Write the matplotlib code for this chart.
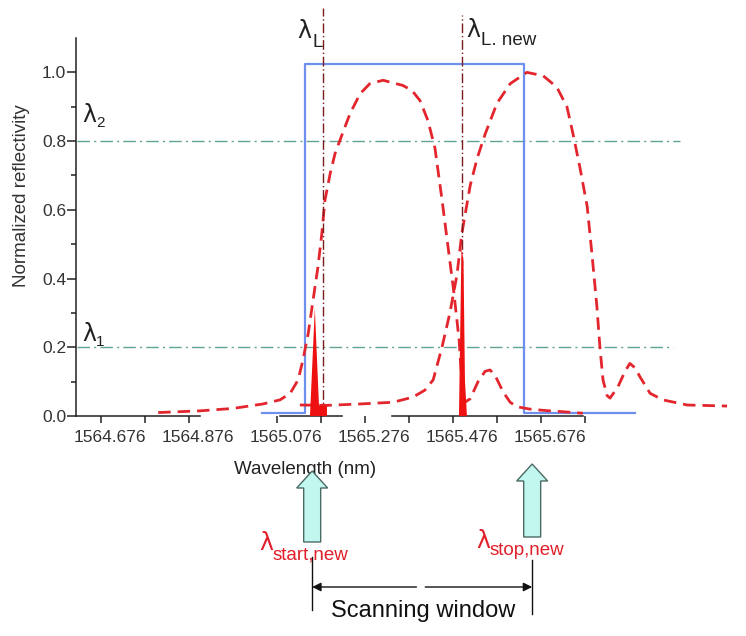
import matplotlib
matplotlib.use("Agg")
import matplotlib.pyplot as plt
import matplotlib.transforms as mtransforms
from matplotlib.patches import Polygon
from matplotlib.lines import Line2D

plt.rcParams['font.family'] = ['Liberation Sans', 'DejaVu Sans']

# --- data (wavelength in nm, normalized reflectivity) ---
fbg1_wl = [1564.806, 1564.901, 1564.976, 1565.044, 1565.083, 1565.106, 1565.124, 1565.135,
           1565.147, 1565.158, 1565.169, 1565.178, 1565.185, 1565.197, 1565.208, 1565.219,
           1565.242, 1565.265, 1565.287, 1565.317, 1565.362, 1565.383, 1565.401, 1565.419,
           1565.435, 1565.451, 1565.465, 1565.478, 1565.490, 1565.496, 1565.503, 1565.515,
           1565.533, 1565.549, 1565.560, 1565.571, 1565.590, 1565.606, 1565.621, 1565.651,
           1565.685, 1565.731, 1565.771]
fbg1_r = [0.010, 0.015, 0.022, 0.035, 0.047, 0.066, 0.105, 0.163, 0.24, 0.337, 0.433, 0.532,
          0.628, 0.706, 0.764, 0.802, 0.88, 0.938, 0.967, 0.977, 0.962, 0.947, 0.918, 0.86,
          0.78, 0.63, 0.49, 0.36, 0.22, 0.10, 0.04, 0.05, 0.10, 0.13, 0.134, 0.12, 0.07, 0.04,
          0.027, 0.02, 0.016, 0.012, 0.008]

fbg2_wl = [1565.128, 1565.190, 1565.265, 1565.340, 1565.385, 1565.412, 1565.431, 1565.451,
           1565.469, 1565.485, 1565.496, 1565.515, 1565.531, 1565.549, 1565.576, 1565.606,
           1565.644, 1565.681, 1565.712, 1565.735, 1565.749, 1565.765, 1565.781, 1565.792,
           1565.803, 1565.810, 1565.817, 1565.826, 1565.833, 1565.851, 1565.867, 1565.878,
           1565.890, 1565.901, 1565.924, 1565.953, 1566.008, 1566.099]
fbg2_r = [0.032, 0.031, 0.035, 0.04, 0.055, 0.075, 0.105, 0.2, 0.30, 0.41, 0.53, 0.67, 0.75,
          0.82, 0.91, 0.967, 1.0, 0.99, 0.957, 0.90, 0.82, 0.72, 0.61, 0.47, 0.32, 0.2, 0.105,
          0.06, 0.052, 0.085, 0.13, 0.153, 0.14, 0.114, 0.066, 0.047, 0.032, 0.029]

# scanning window (rectangle)
window_wl = [1565.042, 1565.140, 1565.140, 1565.637, 1565.637, 1565.890]
window_r = [0.01, 0.01, 1.023, 1.023, 0.01, 0.01]

# laser lines (filled)
laser1_wl = [1565.151, 1565.162, 1565.1715, 1565.1715, 1565.1896, 1565.1896]
laser1_r = [0.0, 0.314, 0.03, 0.03, 0.03, 0.0]
laser2_wl = [1565.4896, 1565.4953, 1565.4999, 1565.5033, 1565.5078]
laser2_r = [0.0, 0.49, 0.45, 0.10, 0.0]

lambda_L = 1565.1805
lambda_L_new = 1565.4965
lambda_1 = 0.2
lambda_2 = 0.8
scan_start = 1565.156
scan_stop = 1565.656

xticks = [1564.676, 1564.776, 1564.876, 1565.076, 1565.176, 1565.276, 1565.376,
          1565.476, 1565.576, 1565.676, 1565.776]
xticklabels = ['1564.676', '', '1564.876', '1565.076', '', '1565.276', '',
               '1565.476', '', '1565.676', '']
axis_pieces = [(1564.619, 1564.901), (1565.083, 1565.224), (1565.337, 1565.771)]

W, H = 746, 636
fig = plt.figure(figsize=(W / 100, H / 100), dpi=100)
ax = fig.add_axes([76 / W, (H - 416) / H, 659 / W, 378 / H])
ax.set_xlim(1564.6192, 1566.117)
ax.set_ylim(0, 1.1)

red = '#e3262e'
ax.plot(fbg1_wl, fbg1_r, color=red, lw=2, linestyle=(0, (4.5, 2.5)), zorder=3)
ax.plot(fbg2_wl, fbg2_r, color=red, lw=2, linestyle=(0, (4.5, 2.5)), zorder=3)
ax.plot(window_wl, window_r, color='#6e90ec', lw=1.6, zorder=2)
ax.fill(laser1_wl, laser1_r, color='#ee1111', lw=0, zorder=4)
ax.fill(laser2_wl, laser2_r, color='#ee1111', lw=0, zorder=4)

green = '#5fa394'
ax.plot([1564.6215, 1565.992], [lambda_2, lambda_2], color=green, lw=1,
        linestyle=(0, (9, 3, 1.5, 3)), zorder=1)
ax.plot([1564.6215, 1565.976], [lambda_1, lambda_1], color=green, lw=1,
        linestyle=(0, (9, 3, 1.5, 3)), zorder=1)

vcol = '#7a1c1c'
ax.plot([lambda_L, lambda_L], [0, 1.186], color=vcol, lw=1,
        linestyle=(0, (7, 2, 1, 2)), clip_on=False, zorder=3)
ax.plot([lambda_L_new, lambda_L_new], [0, 1.166], color=vcol, lw=1,
        linestyle=(0, (7, 2, 1, 2)), clip_on=False, zorder=3)


def lam_label(x, y, sub, trans, color, dx, dy, lam_fs=17, sub_fs=13.5):
    ax.annotate('λ', xy=(x, y), xycoords=trans, fontsize=lam_fs, color=color,
                family='DejaVu Sans', ha='left', va='baseline', annotation_clip=False)
    ax.annotate(sub, xy=(x, y), xycoords=trans, xytext=(dx, dy), textcoords='offset pixels',
                fontsize=sub_fs, color=color, ha='left', va='baseline', annotation_clip=False)


# labels inside the plot
lam_label(1564.633, 0.855, '2', ax.transData, '#222', 14, -5, sub_fs=11)
lam_label(1564.633, 0.218, '1', ax.transData, '#222', 14, -5, sub_fs=11)
lam_label(1565.1215, 1.099, 'L', ax.transData, '#222', 15, -9)
lam_label(1565.506, 1.102, 'L. new', ax.transData, '#222', 15, -8)

# axes styling
for s in ['top', 'right', 'bottom']:
    ax.spines[s].set_visible(False)
ax.spines['left'].set_color('#222')
ax.spines['left'].set_linewidth(1.1)
for a, b in axis_pieces:
    ax.plot([a, b], [0, 0], color='#222', lw=1.1, clip_on=False, zorder=1)

ax.set_xticks(xticks)
ax.set_xticklabels(xticklabels)
ax.set_yticks([0.0, 0.2, 0.4, 0.6, 0.8, 1.0])
ax.set_yticklabels(['0.0', '0.2', '0.4', '0.6', '0.8', '1.0'])
ax.set_yticks([0.1, 0.3, 0.5, 0.7, 0.9], minor=True)
ax.tick_params(axis='x', direction='out', length=5, width=1.1, color='#222',
               labelsize=12.5, labelcolor='#333', pad=5)
ax.tick_params(axis='y', which='major', direction='out', length=6.5, width=1.1,
               color='#222', labelsize=12.5, labelcolor='#333', pad=0.5)
ax.tick_params(axis='y', which='minor', direction='out', length=3.5, width=1.1, color='#222')
# x tick labels sit a little right of their ticks in the original
shift = mtransforms.ScaledTranslation(9 / 100, 0, fig.dpi_scale_trans)
for lab in ax.get_xticklabels():
    lab.set_transform(lab.get_transform() + shift)
ax.set_ylabel('Normalized reflectivity', fontsize=13.5, color='#333')
ax.yaxis.set_label_coords(-0.07, 0.584)

# annotations below the axis (pixel coordinates from top-left)
pix = mtransforms.Affine2D().scale(1 / W, -1 / H).translate(0, 1) + fig.transFigure
mix = mtransforms.blended_transform_factory(ax.transData, pix)

fig.text(305, 469, 'Wavelength (nm)', transform=pix, fontsize=13.5, color='#222',
         ha='center', va='center', zorder=2)


def block_arrow(xc, tip, bottom):
    hs, hh, neck = 0.0193, 0.0352, tip + 17
    pts = [(xc - hs, bottom), (xc - hs, neck), (xc - hh, neck), (xc, tip),
           (xc + hh, neck), (xc + hs, neck), (xc + hs, bottom)]
    fig.patches.append(Polygon(pts, closed=True, transform=mix, facecolor='#c2f7ef',
                               edgecolor='#4a6a66', lw=1, zorder=5))


block_arrow(scan_start, 471, 542)
block_arrow(scan_stop, 464, 537)

lam_label(259, 550, 'start,new', pix, '#e0202a', 14, -9)
lam_label(476, 548, 'stop,new', pix, '#e0202a', 14, -7)

fig.add_artist(Line2D([scan_start, scan_start], [557, 610], transform=mix, color='#111', lw=1))
fig.add_artist(Line2D([scan_stop, scan_stop], [560, 614], transform=mix, color='#111', lw=1))
ax.annotate('', xy=(scan_start, 587), xytext=(1565.393, 587), xycoords=mix, textcoords=mix,
            arrowprops=dict(arrowstyle='-|>', color='#111', lw=1, mutation_scale=13,
                            shrinkA=0, shrinkB=0), annotation_clip=False)
ax.annotate('', xy=(scan_stop, 587), xytext=(1565.413, 587), xycoords=mix, textcoords=mix,
            arrowprops=dict(arrowstyle='-|>', color='#111', lw=1, mutation_scale=13,
                            shrinkA=0, shrinkB=0), annotation_clip=False)
fig.text(423, 611, 'Scanning window', transform=pix, fontsize=17, color='#111',
         ha='center', va='center')

fig.savefig('out.png', dpi=100)
